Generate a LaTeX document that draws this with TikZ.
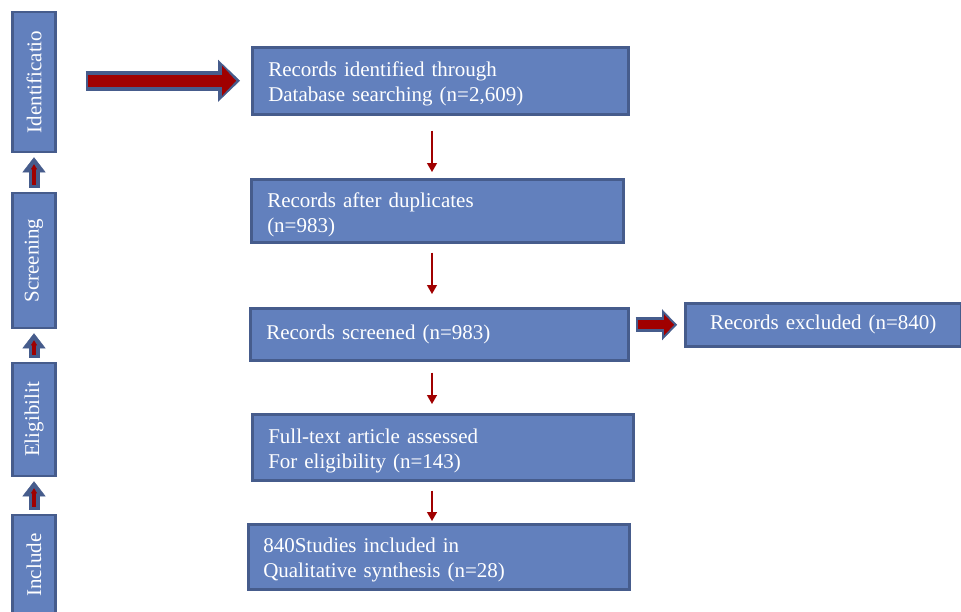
\documentclass[tikz,border=0pt]{standalone}
\usepackage{fontspec}
\setmainfont{Liberation Serif}
\usetikzlibrary{arrows.meta,calc}
\definecolor{boxfill}{RGB}{98,128,189}
\definecolor{boxline}{RGB}{70,92,140}
\definecolor{arrred}{RGB}{160,0,0}
\tikzset{
	stage/.style={rotate=90, draw=boxline, fill=boxfill, line width=2.5pt, text=white, minimum height=43pt, inner sep=0pt},
	recbox/.style={draw=boxline, fill=boxfill, line width=2.5pt, text=white, anchor=north west, align=left, inner xsep=16pt, inner ysep=0pt},
	thinarrow/.style={draw=arrred, line width=1.3pt, -{Triangle[length=9pt,width=10pt]}},
	bigarrow/.style={draw=arrred, line width=12pt, shorten <=31pt, shorten >=15pt, -{Triangle[length=14pt,width=30pt,line width=0.4pt]},
		preaction={draw=boxline, line width=20pt, shorten <=29pt, shorten >=11pt, -{Triangle[length=22pt,width=42pt,line width=0.4pt]}}},
	sidearrow/.style={draw=arrred, line width=9pt, shorten <=8pt, shorten >=10pt, -{Triangle[length=10pt,width=21pt,line width=0.4pt]},
		preaction={draw=boxline, line width=15pt, shorten <=6pt, shorten >=7pt, -{Triangle[length=15pt,width=31pt,line width=0.4pt]}}},
	uparrow/.style={draw=arrred, line width=4pt, shorten <=7pt, shorten >=11pt, -{Triangle[length=5pt,width=6pt,line width=0.4pt]},
		preaction={draw=boxline, line width=11pt, shorten <=4pt, shorten >=4pt, -{Triangle[length=15pt,width=23pt,line width=0.4pt]}}}
}
\newcommand{\toppad}{\rule{0pt}{22pt}}
\begin{document}
\begin{tikzpicture}[x=1pt, y=-1pt, font=\fontsize{21}{25}\selectfont]
	\useasboundingbox (0,0) rectangle (961,611);
	% stages on the left
	\node[stage, minimum width=140pt] (stId) at (34,82) {Identificatio};
	\node[stage, minimum width=135pt] (stScr) at (34,260.5) {Screening};
	\node[stage, minimum width=113pt] (stElig) at (34,419.5) {Eligibilit};
	\node[stage, minimum width=100pt] (stIncl) at (34,565) {Include};
	\draw[uparrow] (stScr.east) -- (stId.west);
	\draw[uparrow] (stElig.east) -- (stScr.west);
	\draw[uparrow] (stIncl.east) -- (stElig.west);
	% flow boxes
	\node[recbox, minimum height=67pt, text width=344pt] (recId) at (251,46) {\toppad Records identified through\\Database searching (n=2,609)};
	\node[recbox, minimum height=63pt, text width=340pt] (recDup) at (250,178) {\toppad Records after duplicates\\(n=983)};
	\node[recbox, minimum height=52pt, text width=346pt] (recScr) at (249,307) {Records screened (n=983)};
	\node[recbox, minimum height=43pt, text width=244pt, align=center] (recExc) at (684,302) {Records excluded (n=840)};
	\node[recbox, minimum height=66pt, text width=349pt] (recFull) at (251,413) {\toppad Full-text article assessed\\For eligibility (n=143)};
	\node[recbox, minimum height=65pt, text width=351pt, inner xsep=15pt] (recIncl) at (247,523) {\toppad 840Studies included in\\Qualitative synthesis (n=28)};
	\coordinate (ax) at (432,0);
	\draw[bigarrow] (stId.south |- recId.west) -- (recId.west);
	\draw[thinarrow, shorten <=15pt, shorten >=6pt] (recId.south -| ax) -- (recDup.north -| ax);
	\draw[thinarrow, shorten <=9pt, shorten >=13pt] (recDup.south -| ax) -- (recScr.north -| ax);
	\draw[thinarrow, shorten <=11pt, shorten >=9pt] (recScr.south -| ax) -- (recFull.north -| ax);
	\draw[thinarrow, shorten <=9pt, shorten >=2pt] (recFull.south -| ax) -- (recIncl.north -| ax);
	\draw[sidearrow] (recScr.east |- recExc.west) -- (recExc.west);
\end{tikzpicture}
\end{document}
